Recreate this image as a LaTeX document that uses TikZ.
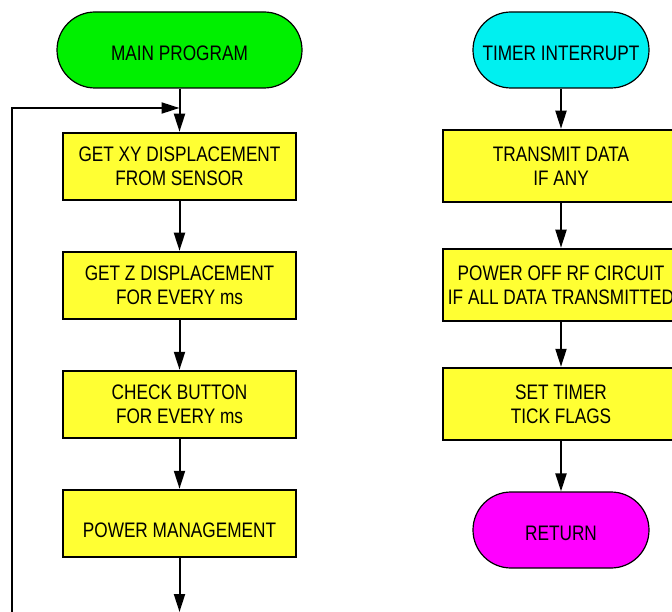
\documentclass[tikz,border=0pt]{standalone}
\usepackage{fontspec}
\setmainfont{Liberation Sans}[FakeStretch=0.82]
\usetikzlibrary{arrows.meta}
\definecolor{pillgreen}{RGB}{0,240,0}
\definecolor{pillcyan}{RGB}{0,240,240}
\definecolor{pillmagenta}{RGB}{255,0,255}
\definecolor{boxyellow}{RGB}{255,255,51}
\tikzset{
  lbl/.style={font=\fontsize{21}{24}\selectfont, align=center, inner sep=0pt},
  pill/.style={lbl, draw, line width=1.2pt, rounded corners=38pt, minimum width=245pt, minimum height=76pt, text height=20.5pt, text depth=0pt},
  pillR/.style={pill, minimum width=176pt},
  stepbox/.style={lbl, draw, line width=2.5pt, fill=boxyellow, minimum width=233pt, minimum height=67pt},
  stepboxR/.style={stepbox, minimum width=236pt, minimum height=72pt},
  lowtext/.style={text height=27pt, text depth=0pt},
  flow/.style={line width=2pt, -{Triangle[length=18pt,width=11pt]}},
  plain/.style={line width=2pt}
}
\begin{document}
\begin{tikzpicture}[x=1pt,y=-1pt]
\useasboundingbox (0,0) rectangle (672,612);
\clip (0,0) rectangle (672,612);
% left column
\node[pill, fill=pillgreen] (main) at (179.5,50) {MAIN PROGRAM};
\node[stepbox] (b1) at (179.5,166.5) {GET XY DISPLACEMENT\\FROM SENSOR};
\node[stepbox] (b2) at (179.5,285.5) {GET Z DISPLACEMENT\\FOR EVERY ms};
\node[stepbox] (b3) at (179.5,404.5) {CHECK BUTTON\\FOR EVERY ms};
\node[stepbox, lowtext] (b4) at (179.5,523.5) {POWER MANAGEMENT};
\coordinate (join) at (179.5,108);
\coordinate (loopTop) at (12,108);
\coordinate (loopBot) at (12,614);
\coordinate (exitBot) at (179.5,612);
\draw[flow] (main) -- (b1);
\draw[flow] (b1) -- (b2);
\draw[flow] (b2) -- (b3);
\draw[flow] (b3) -- (b4);
\draw[flow] (b4) -- (exitBot);
\draw[plain] (loopBot) -- (loopTop);
\draw[flow] ([xshift=-1pt]loopTop) -- (join);
% right column
\node[pillR, fill=pillcyan] (timer) at (561,50) {TIMER INTERRUPT};
\node[stepboxR] (r1) at (561,166) {TRANSMIT DATA\\IF ANY};
\node[stepboxR] (r2) at (561,285) {POWER OFF RF CIRCUIT\\IF ALL DATA TRANSMITTED};
\node[stepboxR] (r3) at (561,404) {SET TIMER\\TICK FLAGS};
\node[pillR, fill=pillmagenta] (ret) at (561,530) {RETURN};
\draw[flow] (timer) -- (r1);
\draw[flow] (r1) -- (r2);
\draw[flow] (r2) -- (r3);
\draw[flow] (r3) -- (ret);
\end{tikzpicture}
\end{document}
